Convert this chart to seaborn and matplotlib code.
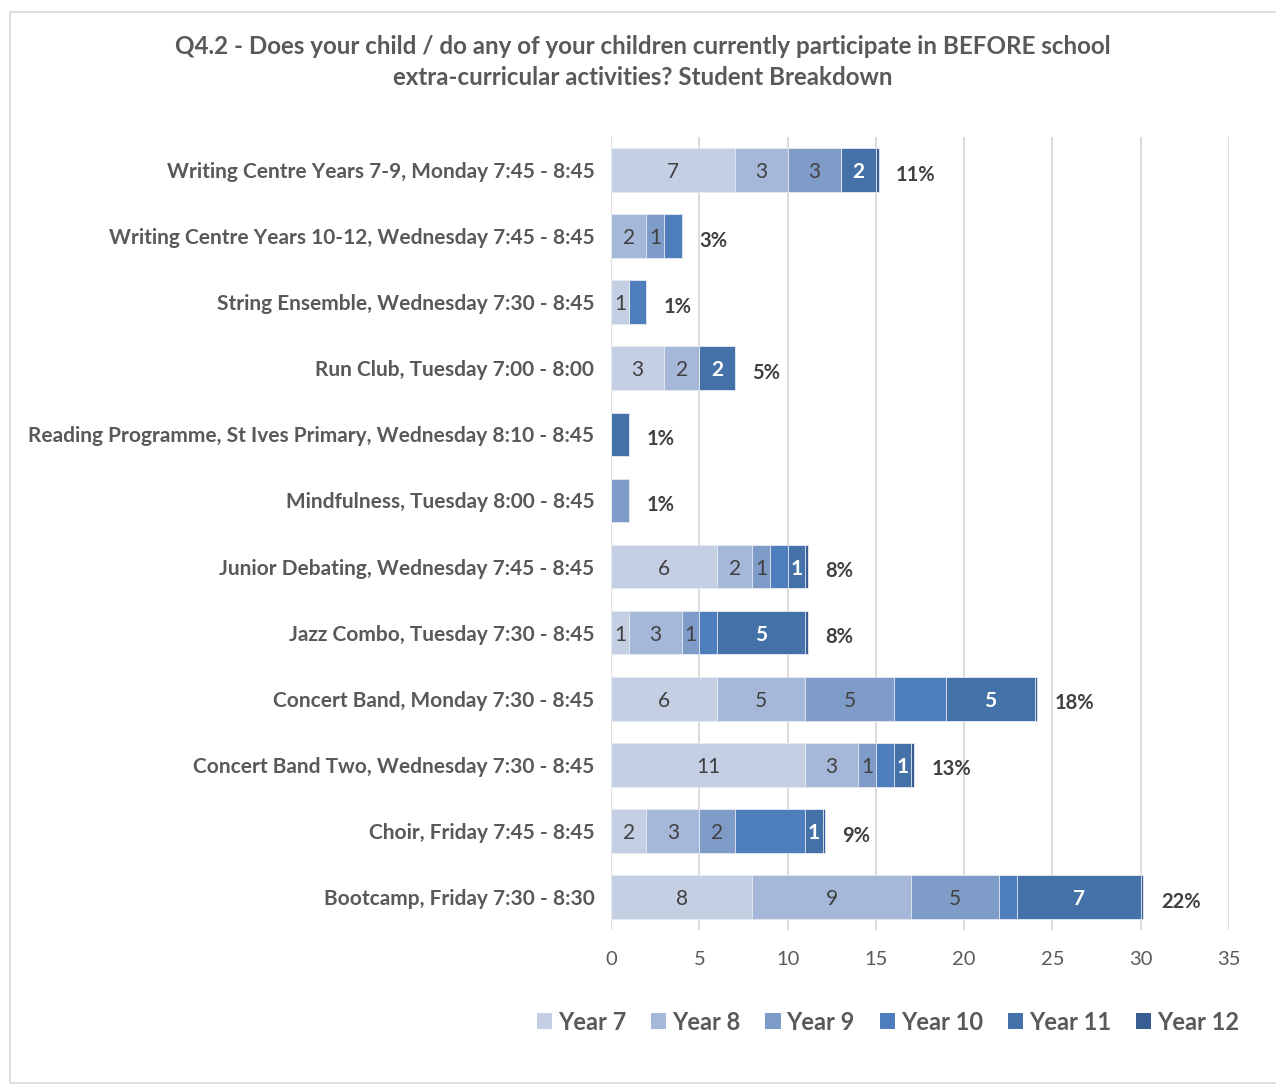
import numpy as np
import pandas as pd
import seaborn as sns
import matplotlib.pyplot as plt
from matplotlib.patches import Rectangle

categories = [
    "Writing Centre Years 7-9, Monday 7:45 - 8:45",
    "Writing Centre Years 10-12, Wednesday 7:45 - 8:45",
    "String Ensemble, Wednesday 7:30 - 8:45",
    "Run Club, Tuesday 7:00 - 8:00",
    "Reading Programme, St Ives Primary, Wednesday 8:10 - 8:45",
    "Mindfulness, Tuesday 8:00 - 8:45",
    "Junior Debating, Wednesday 7:45 - 8:45",
    "Jazz Combo, Tuesday 7:30 - 8:45",
    "Concert Band, Monday 7:30 - 8:45",
    "Concert Band Two, Wednesday 7:30 - 8:45",
    "Choir, Friday 7:45 - 8:45",
    "Bootcamp, Friday 7:30 - 8:30",
]
year7 = [7, 0, 1, 3, 0, 0, 6, 1, 6, 11, 2, 8]
year8 = [3, 2, 0, 2, 0, 0, 2, 3, 5, 3, 3, 9]
year9 = [3, 1, 0, 0, 0, 1, 1, 1, 5, 1, 2, 5]
year10 = [0, 1, 1, 0, 0, 0, 1, 1, 3, 1, 4, 1]
year11 = [2, 0, 0, 2, 1, 0, 1, 5, 5, 1, 1, 7]
year12 = [0.15, 0, 0, 0, 0, 0, 0.15, 0.15, 0.15, 0.15, 0.1, 0.15]
pct_labels = ["11%", "3%", "1%", "5%", "1%", "1%", "8%", "8%", "18%", "13%", "9%", "22%"]
series_names = ["Year 7", "Year 8", "Year 9", "Year 10", "Year 11", "Year 12"]
colors = ["#C5CFE4", "#A5B8D9", "#7F9CC8", "#4E7EBD", "#4472A8", "#3A5E94"]
# rows whose segment value is not printed in the original
no_label_rows = ["Reading Programme, St Ives Primary, Wednesday 8:10 - 8:45",
                 "Mindfulness, Tuesday 8:00 - 8:45"]

df = pd.DataFrame({"cat": categories, "Year 7": year7, "Year 8": year8, "Year 9": year9,
                   "Year 10": year10, "Year 11": year11, "Year 12": year12})
cum = df[series_names].cumsum(axis=1)

sns.set_style("white")
plt.rcParams["font.family"] = ["Lato", "DejaVu Sans"]
txt = "#595959"

fig = plt.figure(figsize=(12.76, 10.87), dpi=100)
ax = fig.add_axes([611 / 1276, 1 - 930 / 1087, (1229 - 611) / 1276, (930 - 137) / 1087])

# stacked: draw cumulative totals from the last series backwards
for name, col in reversed(list(zip(series_names, colors))):
    sns.barplot(x=cum[name], y=df["cat"], color=col, width=0.66, orient="h",
                saturation=1, ax=ax, label=name, zorder=3,
                edgecolor="#E8ECF4", linewidth=0.6)
if ax.get_legend() is not None:
    ax.get_legend().remove()

# segment labels
for i in range(len(categories)):
    for name in series_names:
        v = df[name][i]
        if v < 1 or name in ("Year 10", "Year 12") or categories[i] in no_label_rows:
            continue
        mid = cum[name][i] - v / 2
        if name == "Year 11":
            ax.text(mid, i + 0.03, f"{v:g}", ha="center", va="center", color="white",
                    fontsize=15, fontweight="bold", zorder=5)
        else:
            ax.text(mid, i + 0.03, f"{v:g}", ha="center", va="center", color="#404040",
                    fontsize=15, zorder=5)
    ax.text(cum["Year 12"][i] + 1.0, i + 0.07, pct_labels[i], ha="left", va="center",
            color="#404040", fontsize=14.5, fontweight="bold", zorder=5)

ax.set_xlim(0, 35)
ax.set_ylim(11.5, -0.5)
ax.set_xticks(range(0, 36, 5))
ax.xaxis.grid(True, color="#D9D9D9", linewidth=1.3, zorder=0)
ax.set_axisbelow(True)
for s in ax.spines.values():
    s.set_visible(False)
ax.set_xlabel("")
ax.set_ylabel("")
ax.tick_params(axis="x", colors=txt, labelsize=14.5, length=0, pad=15)
ax.tick_params(axis="y", length=0, pad=12)
for lab in ax.get_yticklabels():
    lab.set_fontweight("bold")
    lab.set_fontsize(15)
    lab.set_color(txt)

handles, labels = ax.get_legend_handles_labels()
order = [labels.index(n) for n in series_names]
leg = fig.legend([handles[k] for k in order], series_names, loc="center",
                 bbox_to_anchor=(888 / 1276, 1 - 1022 / 1087), ncol=6, frameon=False,
                 handlelength=0.65, handleheight=0.65, handletextpad=0.25, columnspacing=1.05,
                 prop={"size": 17, "weight": "bold"})
for t in leg.get_texts():
    t.set_color(txt)
for h in leg.legend_handles:
    h.set_linewidth(0)

fig.text(643 / 1276, 1 - 62 / 1087,
         "Q4.2 - Does your child / do any of your children currently participate in BEFORE school\nextra-curricular activities? Student Breakdown",
         ha="center", va="center", fontsize=17.4, fontweight="bold", color=txt, linespacing=1.4)

fig.patches.append(Rectangle((10 / 1276, 4 / 1087), 1.1, 1 - 16 / 1087, transform=fig.transFigure,
                             fill=False, edgecolor="#D9D9D9", linewidth=1.2))

fig.savefig("out.png", dpi=100)
